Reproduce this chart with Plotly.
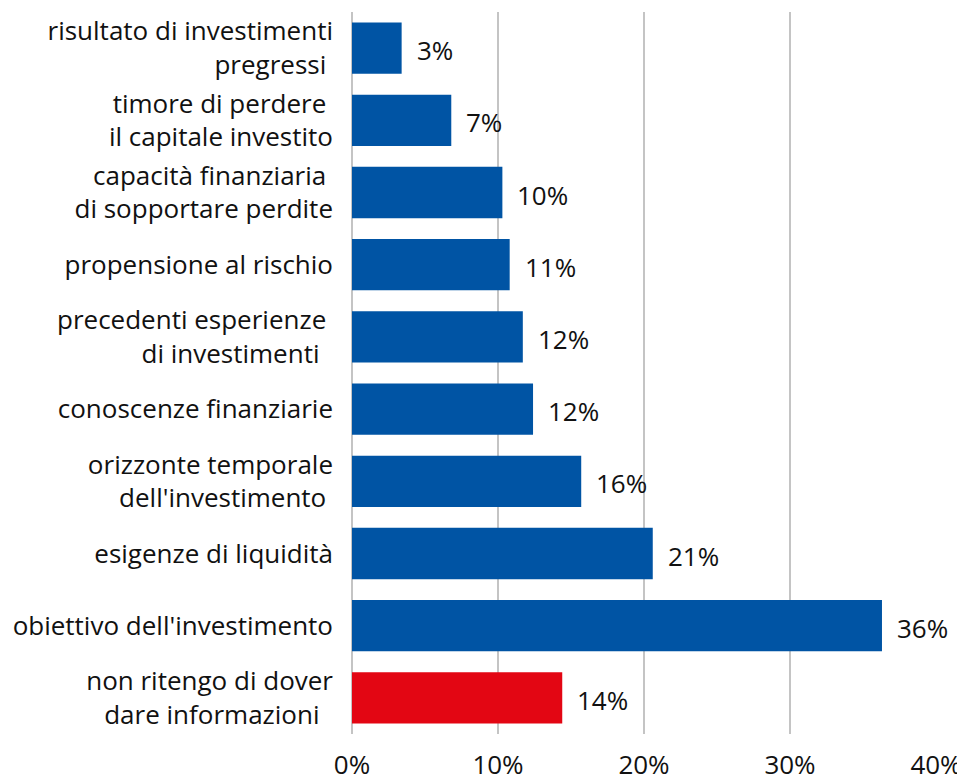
"""Horizontal bar chart: information given to the advisor (share of respondents)."""

import plotly.graph_objects as go

NBSP = "\u00a0"

categories = [
    "risultato di investimenti<br>pregressi" + NBSP,
    "timore di perdere" + NBSP + "<br>il capitale investito",
    "capacità finanziaria" + NBSP + "<br>di sopportare perdite",
    "propensione al rischio",
    "precedenti esperienze" + NBSP + "<br>di investimenti" + NBSP + NBSP,
    "conoscenze finanziarie",
    "orizzonte temporale<br>dell'investimento" + NBSP,
    "esigenze di liquidità",
    "obiettivo dell'investimento",
    "non ritengo di dover<br>dare informazioni" + NBSP + NBSP,
]
values = [3.4, 6.8, 10.3, 10.8, 11.7, 12.4, 15.7, 20.6, 36.3, 14.4]
bar_colors = ["#0054A4"] * 9 + ["#E30613"]
x_ticks = [0, 10, 20, 30, 40]
x_tick_labels = ["0%", "10%", "20%", "30%", "40%"]

FONT = "Open Sans, Noto Sans, sans-serif"
TEXT_COLOR = "#111111"
FS = 26

fig = go.Figure()
fig.add_trace(
    go.Bar(
        x=values,
        y=categories,
        orientation="h",
        marker=dict(color=bar_colors, line=dict(width=0)),
        hoverinfo="skip",
    )
)

# value labels to the right of each bar
for cat, v in zip(categories, values):
    fig.add_annotation(
        x=v, y=cat, text=f"{round(v)}%", showarrow=False,
        xanchor="left", xshift=13, yshift=-2,
        font=dict(family=FONT, size=FS, color=TEXT_COLOR),
    )

# the page body has an 8px default margin, so the figure is sized to fit the window
fig.update_layout(
    width=957,
    height=774,
    margin=dict(l=344, r=29, t=4, b=48),
    paper_bgcolor="white",
    plot_bgcolor="white",
    showlegend=False,
    bargap=0.29,
    font=dict(family=FONT, size=FS, color=TEXT_COLOR),
)
fig.update_xaxes(
    range=[0, 40],
    tickvals=x_ticks,
    ticktext=x_tick_labels,
    showgrid=True,
    gridcolor="#c4c4c4",
    gridwidth=2,
    zeroline=True,
    zerolinecolor="#c4c4c4",
    zerolinewidth=2,
    showline=False,
    ticks="",
    tickfont=dict(family=FONT, size=FS, color=TEXT_COLOR),
    ticklabelstandoff=13,
    automargin=False,
    fixedrange=True,
)
fig.update_yaxes(
    categoryorder="array",
    categoryarray=categories,
    autorange="reversed",
    showgrid=False,
    zeroline=False,
    showline=False,
    ticks="",
    ticklabelstandoff=18,
    tickfont=dict(family=FONT, size=FS, color=TEXT_COLOR),
    automargin=False,
    fixedrange=True,
)

fig.write_html("out.html")
